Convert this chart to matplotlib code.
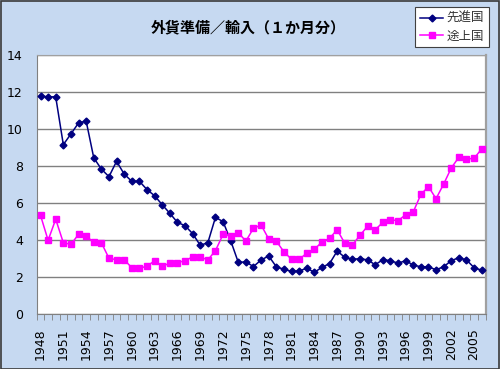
import matplotlib
matplotlib.use('Agg')
import matplotlib.pyplot as plt
from matplotlib.patches import Rectangle

plt.rcParams['font.family'] = ['DejaVu Sans', 'Noto Sans CJK JP']

years = list(range(1948, 2007))
developed = [11.78, 11.76, 11.75, 9.17, 9.75, 10.34, 10.45, 8.46, 7.85, 7.44,
             8.27, 7.58, 7.19, 7.19, 6.74, 6.41, 5.92, 5.46, 4.97, 4.79,
             4.36, 3.73, 3.87, 5.24, 5.01, 3.98, 2.81, 2.83, 2.58, 2.94,
             3.15, 2.57, 2.43, 2.32, 2.34, 2.49, 2.27, 2.54, 2.74, 3.42,
             3.08, 2.97, 3.01, 2.94, 2.68, 2.95, 2.90, 2.76, 2.90, 2.66,
             2.57, 2.56, 2.41, 2.57, 2.90, 3.06, 2.94, 2.52, 2.38]
developing = [5.35, 4.00, 5.14, 3.87, 3.78, 4.32, 4.23, 3.89, 3.87, 3.03,
              2.95, 2.95, 2.52, 2.50, 2.59, 2.90, 2.59, 2.77, 2.79, 2.90,
              3.10, 3.10, 2.94, 3.44, 4.32, 4.23, 4.41, 3.96, 4.65, 4.83,
              4.07, 3.95, 3.38, 2.97, 2.97, 3.30, 3.51, 3.91, 4.11, 4.57,
              3.84, 3.75, 4.27, 4.76, 4.57, 4.97, 5.11, 5.06, 5.38, 5.53,
              6.48, 6.90, 6.25, 7.04, 7.91, 8.49, 8.39, 8.43, 8.94]
series_names = ['先進国', '途上国']
title = '外貨準備／輸入（１か月分）'

W, H = 500, 369
fig = plt.figure(figsize=(W / 100, H / 100), dpi=100, facecolor='#C6D9F1')
fig.patches.append(Rectangle((0.5 / W, 0.5 / H), 1 - 1.5 / W, 1 - 1.5 / H,
                             transform=fig.transFigure, fill=False,
                             edgecolor='#3a3a3a', lw=1.2))

ax = fig.add_axes([36.7 / W, 1 - 314.3 / H, (485.5 - 36.7) / W, (314.3 - 55.3) / H])
ax.set_facecolor('white')

ax.plot(years, developed, color='#000080', marker='D', markersize=3.5,
        lw=1.1, label=series_names[0], zorder=3)
ax.plot(years, developing, color='#FF00FF', marker='s', markersize=5,
        lw=1.1, label=series_names[1], zorder=3)

ax.set_xlim(1947.5, 2006.5)
ax.set_ylim(0, 14)
ax.set_yticks(range(0, 15, 2))
ax.yaxis.grid(True, color='#808080', lw=1)
ax.set_axisbelow(True)
ax.tick_params(axis='y', length=0, pad=10, labelsize=9)

ax.set_xticks(years[::3])
ax.set_xticklabels([str(y) for y in years[::3]], rotation=90, fontsize=9)
ax.set_xticks([y - 0.5 for y in years] + [2006.5], minor=True)
ax.tick_params(axis='x', which='major', length=0, pad=10)
ax.tick_params(axis='x', which='minor', length=4, color='#808080', direction='out')

for s in ['top', 'right']:
    ax.spines[s].set_color('#a0a0a0')
ax.spines['right'].set_linewidth(1.6)
ax.spines['left'].set_color('#808080')
ax.spines['bottom'].set_color('#808080')

fig.text(248 / W, 1 - 27 / H, title, ha='center', va='center',
         fontsize=10.8, fontweight='bold', family=['Noto Sans CJK JP'])

leg = fig.legend(loc='upper right', bbox_to_anchor=(489 / W, 1 - 7 / H),
                 prop={'family': 'Noto Sans CJK JP', 'size': 9},
                 fancybox=False, framealpha=1, edgecolor='#404040',
                 handlelength=1.8, borderpad=0.4, labelspacing=0.35,
                 handletextpad=0.3, borderaxespad=0)
leg.get_frame().set_linewidth(0.8)
for t in leg.get_texts():
    t.set_color('#333333')

fig.savefig('out.png', dpi=100, facecolor=fig.get_facecolor())
